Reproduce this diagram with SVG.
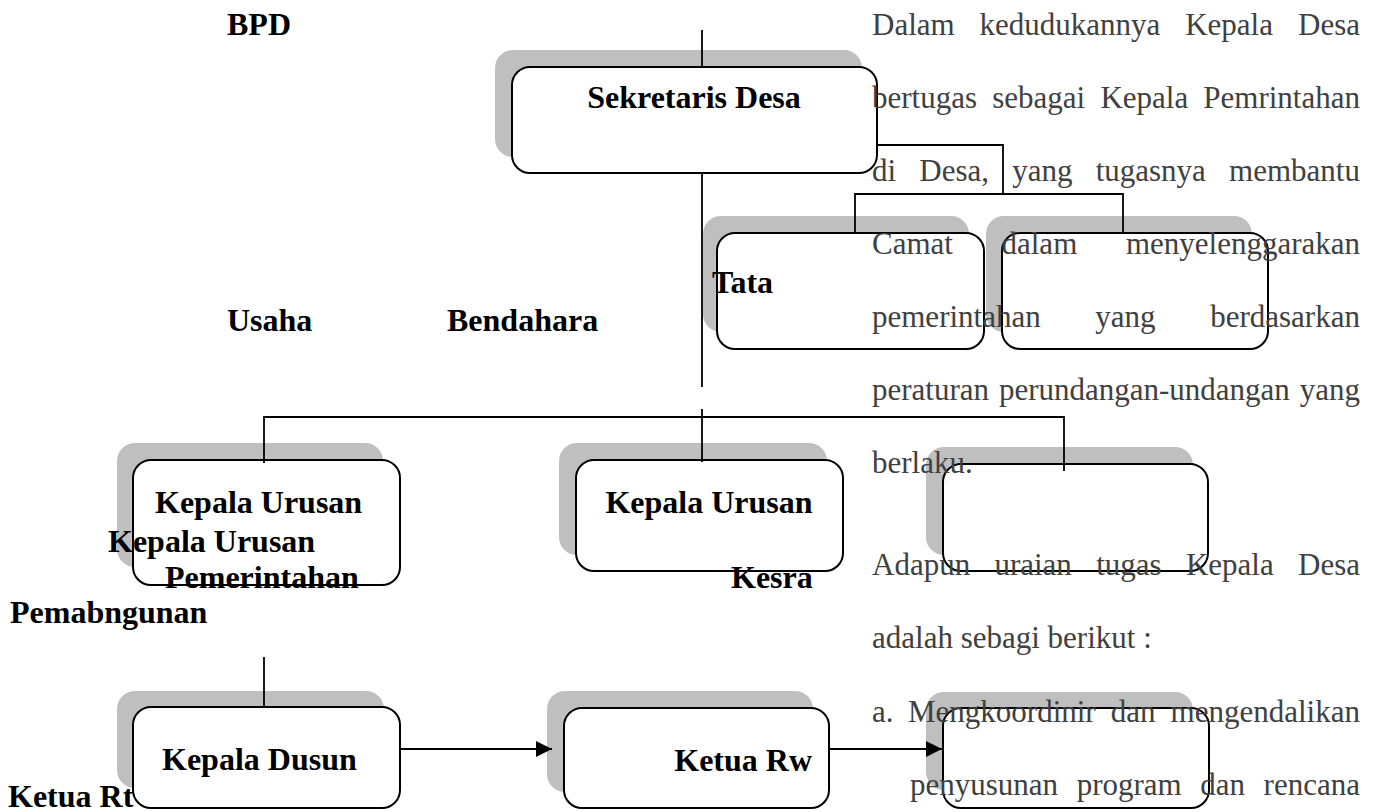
<svg xmlns="http://www.w3.org/2000/svg" width="1383" height="812" viewBox="0 0 1383 812">
<defs>
<style>
.sh{fill:#bfbfbf}
.bx{fill:#fff;stroke:#000;stroke-width:2}
.lbl{font-family:"Liberation Serif","Times New Roman",serif;font-weight:bold;font-size:32px;fill:#000}
.body{font-family:"Liberation Serif","Times New Roman",serif;font-size:31px;fill:#404040}
.ln{stroke:#000;stroke-width:1.8;fill:none}
</style>
<marker id="ah" markerUnits="userSpaceOnUse" markerWidth="16" markerHeight="16" viewBox="0 0 16 16" refX="16" refY="8" orient="auto">
<path d="M0,0 L16,8 L0,16 Z" fill="#000"/>
</marker>
</defs>
<rect width="1383" height="812" fill="#fff"/>

<g id="sekretaris">
<rect class="sh" x="495" y="50" width="367" height="107" rx="18"/>
<rect class="bx" x="512" y="67" width="365" height="106" rx="18"/>
<text class="lbl" x="694" y="108" text-anchor="middle">Sekretaris Desa</text>
</g>

<g id="tata-usaha">
<rect class="sh" x="703" y="216" width="266" height="116" rx="18"/>
<rect class="bx" x="717" y="233" width="267" height="116" rx="18"/>
</g>

<g id="bendahara">
<rect class="sh" x="986" y="216" width="266" height="116" rx="18"/>
<rect class="bx" x="1002" y="233" width="266" height="116" rx="18"/>
</g>

<g id="kaur-pemerintahan">
<rect class="sh" x="117" y="443" width="266" height="124" rx="18"/>
<rect class="bx" x="133" y="460" width="267" height="125" rx="18"/>
<text class="lbl" x="155" y="513">Kepala Urusan</text>
</g>

<g id="kaur-kesra">
<rect class="sh" x="559" y="443" width="268" height="112" rx="18"/>
<rect class="bx" x="576" y="460" width="267" height="111" rx="18"/>
<text class="lbl" x="709" y="513" text-anchor="middle">Kepala Urusan</text>
</g>

<g id="kaur-pembangunan">
<rect class="sh" x="926" y="447" width="267" height="108" rx="18"/>
<rect class="bx" x="943" y="464" width="265" height="107" rx="18"/>
</g>

<g id="kepala-dusun">
<rect class="sh" x="117" y="691" width="267" height="97" rx="18"/>
<rect class="bx" x="133" y="707" width="267" height="101" rx="18"/>
<text class="lbl" x="162" y="770">Kepala Dusun</text>
</g>

<g id="ketua-rw">
<rect class="sh" x="547" y="691" width="266" height="101" rx="18"/>
<rect class="bx" x="564" y="708" width="265" height="100" rx="18"/>
<text class="lbl" x="812" y="771" text-anchor="end">Ketua Rw</text>
</g>

<g id="ketua-rt">
<rect class="sh" x="926" y="692" width="267" height="98" rx="18"/>
<rect class="bx" x="943" y="708" width="266" height="100" rx="18"/>
</g>

<g id="connectors">
<line class="ln" x1="702" y1="30" x2="702" y2="67"/>
<line class="ln" x1="702" y1="173" x2="702" y2="387"/>
<polyline class="ln" points="877,145 1003,145 1003,194"/>
<polyline class="ln" points="855,233 855,194 1123,194 1123,233"/>
<line class="ln" x1="702" y1="409" x2="702" y2="462"/>
<polyline class="ln" points="264,463 264,417 1064,417 1064,471"/>
<line class="ln" x1="264" y1="657" x2="264" y2="707"/>
<line class="ln" x1="400" y1="749" x2="552" y2="749" marker-end="url(#ah)"/>
<line class="ln" x1="829" y1="749" x2="942" y2="749" marker-end="url(#ah)"/>
</g>

<g id="labels">
<text class="lbl" x="227" y="35">BPD</text>
<text class="lbl" x="712" y="293">Tata</text>
<text class="lbl" x="227" y="331">Usaha</text>
<text class="lbl" x="447" y="331">Bendahara</text>
<text class="lbl" x="108" y="552">Kepala Urusan</text>
<text class="lbl" x="165" y="588">Pemerintahan</text>
<text class="lbl" x="731" y="588">Kesra</text>
<text class="lbl" x="10" y="623">Pemabngunan</text>
<text class="lbl" x="8" y="807">Ketua Rt</text>
</g>

<g id="paragraph" class="body">
<text y="35"><tspan x="872">Dalam</tspan><tspan x="979.5">kedudukannya</tspan><tspan x="1185.2">Kepala</tspan><tspan x="1298">Desa</tspan></text>
<text y="108"><tspan x="872">bertugas</tspan><tspan x="992.2">sebagai</tspan><tspan x="1100.4">Kepala</tspan><tspan x="1203.3">Pemrintahan</tspan></text>
<text y="181"><tspan x="872">di</tspan><tspan x="919.3">Desa,</tspan><tspan x="1012.2">yang</tspan><tspan x="1095.7">tugasnya</tspan><tspan x="1229.1">membantu</tspan></text>
<text y="254"><tspan x="872">Camat</tspan><tspan x="1001.5">dalam</tspan><tspan x="1125.9">menyelenggarakan</tspan></text>
<text y="327"><tspan x="872">pemerintahan</tspan><tspan x="1095.3">yang</tspan><tspan x="1210.2">berdasarkan</tspan></text>
<text y="400"><tspan x="872">peraturan</tspan><tspan x="998.9">perundangan-undangan</tspan><tspan x="1299.7">yang</tspan></text>
<text x="872" y="473">berlaku.</text>
<text y="575"><tspan x="872">Adapun</tspan><tspan x="994.4">uraian</tspan><tspan x="1096.2">tugas</tspan><tspan x="1185.9">Kepala</tspan><tspan x="1298">Desa</tspan></text>
<text x="872" y="648">adalah sebagi berikut :</text>
<text y="722"><tspan x="872">a.</tspan><tspan x="908">Mengkoordinir</tspan><tspan x="1110.7">dan</tspan><tspan x="1170.6">mengendalikan</tspan></text>
<text y="795"><tspan x="910">penyusunan</tspan><tspan x="1076.7">program</tspan><tspan x="1200.3">dan</tspan><tspan x="1263.6">rencana</tspan></text>
</g>
</svg>
